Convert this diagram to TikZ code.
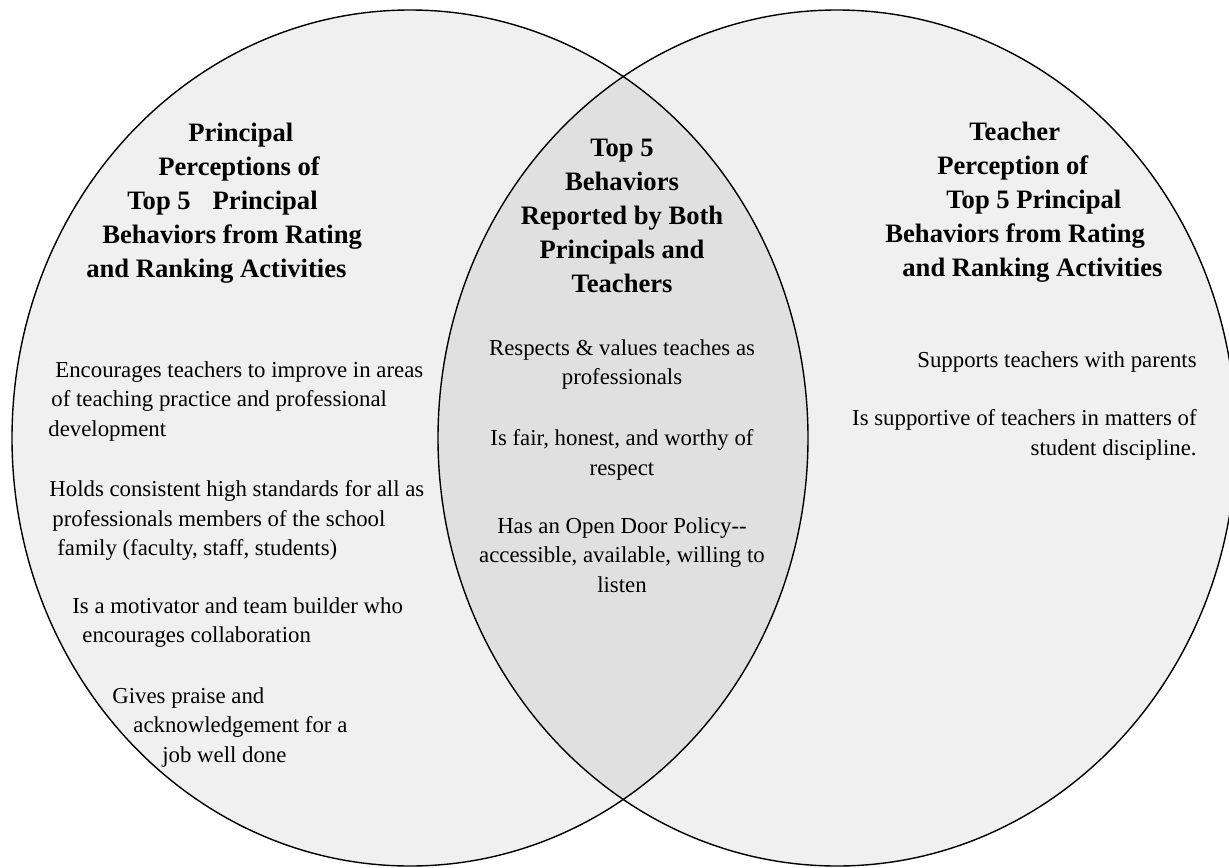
\documentclass[tikz,border=0pt]{standalone}
\usepackage{fontspec}
\setmainfont{Liberation Serif}
\definecolor{setfill}{gray}{0.94}
\definecolor{lensfill}{gray}{0.88}
\begin{document}
\begin{tikzpicture}
        [x=0.5pt, y=-0.5pt,
        head/.style={inner sep=0pt, font=\fontsize{13.3}{17}\selectfont\bfseries},
        body/.style={inner sep=0pt, font=\fontsize{11.4}{14.6}\selectfont},
        outline/.style={draw=black, line width=0.7pt},
        ]
        \useasboundingbox (0,0) rectangle (1229,867);
        \fill[white] (0,0) rectangle (1229,867);
        \fill[setfill] (410,438) ellipse [x radius=398, y radius=428];
        \fill[setfill] (837,438) ellipse [x radius=399, y radius=428];
        \begin{scope}
          \clip (410,438) ellipse [x radius=398, y radius=428];
          \fill[lensfill] (837,438) ellipse [x radius=399, y radius=428];
        \end{scope}
        \draw[outline] (410,438) ellipse [x radius=398, y radius=428];
        \draw[outline] (837,438) ellipse [x radius=399, y radius=428];

        \node[head, align=left, anchor=north west] (princhead) at (86,123)
          {\hspace*{51pt}Principal\\
           \hspace*{36pt}Perceptions of\\
           \hspace*{20.5pt}Top 5\hspace{11pt}Principal\\
           \hspace*{8pt}Behaviors from Rating\\
           and Ranking Activities};
        \node[head, align=center, anchor=north] (bothhead) at (622,139)
          {Top 5\\ Behaviors\\ Reported by Both\\ Principals and\\ Teachers};
        \node[head, align=left, anchor=north west] (teachhead) at (885,122)
          {\hspace*{42pt}Teacher\\
           \hspace*{26pt}Perception of\\
           \hspace*{30.5pt}Top 5 Principal\\
           Behaviors from Rating\\
           \hspace*{8.5pt}and Ranking Activities};

        \node[body, align=left, anchor=north west] (princa) at (48,361.5)
          {\hspace*{3.5pt}Encourages teachers to improve in areas\\
           \hspace*{1.5pt}of teaching practice and professional\\
           development};
        \node[body, align=left, anchor=north west] (princb) at (49,480.5)
          {Holds consistent high standards for all as\\
           \hspace*{1.5pt}professionals members of the school\\
           \hspace*{4pt}family (faculty, staff, students)};
        \node[body, align=left, anchor=north west] (princc) at (72,597.5)
          {Is a motivator and team builder who\\
           \hspace*{5pt}encourages collaboration};
        \node[body, align=left, anchor=north west] (princd) at (112,687.5)
          {Gives praise and\\
           \hspace*{10.5pt}acknowledgement for a\\
           \hspace*{25pt}job well done};

        \node[body, align=center, anchor=north] (botha) at (622,339.5)
          {Respects \& values teaches as\\ professionals};
        \node[body, align=center, anchor=north] (bothb) at (622,429.5)
          {Is fair, honest, and worthy of\\ respect};
        \node[body, align=center, anchor=north] (bothc) at (622,517.5)
          {Has an Open Door Policy-{}-\\ accessible, available, willing to\\ listen};

        \node[body, align=right, anchor=north east] (teacha) at (1197,351)
          {Supports teachers with parents};
        \node[body, align=right, anchor=north east] (teachb) at (1197,409.5)
          {Is supportive of teachers in matters of\\ student discipline.};
\end{tikzpicture}
\end{document}
